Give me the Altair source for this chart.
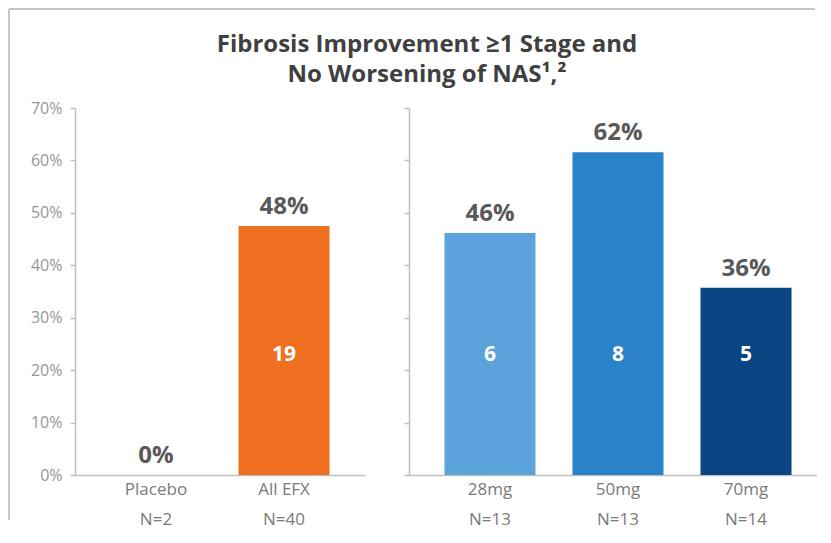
import altair as alt
import pandas as pd

# ---- data ----
left_groups = ["Placebo", "All EFX"]
left_n = ["N=2", "N=40"]
left_rates = [0.0, 0.475]
left_labels = ["0%", "48%"]
left_counts = ["", "19"]
left_colors = ["#ffffff", "#f07022"]

right_groups = ["28mg", "50mg", "70mg"]
right_n = ["N=13", "N=13", "N=14"]
right_rates = [0.4615, 0.6154, 0.3571]
right_labels = ["46%", "62%", "36%"]
right_counts = ["6", "8", "5"]
right_colors = ["#5ba3db", "#2a83c8", "#0b4583"]

y_ticks = [0.0, 0.1, 0.2, 0.3, 0.4, 0.5, 0.6, 0.7]
title_lines = ["Fibrosis Improvement \u22651 Stage and", "No Worsening of NAS\u00b9,\u00b2"]

FRAME = "#c6c6c6"
AXIS = "#bfbfbf"
FONT = "Open Sans"


def make_df(groups, ns, rates, labels, counts, colors):
    return pd.DataFrame({
        "cat": [f"{g}|{n}" for g, n in zip(groups, ns)],
        "rate": rates,
        "label": labels,
        "count": counts,
        "color": colors,
    })


def panel(df, show_labels, pad_outer, align):
    cats = list(df["cat"])
    x = alt.X(
        "cat:N", sort=cats,
        scale=alt.Scale(paddingInner=0.289, paddingOuter=pad_outer, align=align),
        axis=alt.Axis(
            title=None, labelExpr="split(datum.label, '|')", labelAngle=0,
            ticks=False, tickSize=0, labelPadding=6, labelFontSize=17,
            labelColor="#7a7a7a", labelFont=FONT, labelLineHeight=30,
            domainColor=AXIS, domainWidth=1.5,
        ),
    )
    y = alt.Y(
        "rate:Q",
        scale=alt.Scale(domain=[0, 0.7], nice=False),
        axis=alt.Axis(
            title=None, format=".0%", values=y_ticks, labels=show_labels,
            grid=False, tickSize=5, tickColor=AXIS, tickWidth=1.5,
            domainColor=AXIS, domainWidth=1.5, labelFont=FONT,
            labelFontSize=16, labelColor="#969696", labelPadding=8,
        ),
    )
    base = alt.Chart(df)
    bars = base.mark_bar().encode(x=x, y=y, color=alt.Color("color:N", scale=None))
    top = base.mark_text(
        baseline="bottom", dy=-7, fontSize=24, fontWeight="bold",
        color="#595959", font=FONT,
    ).encode(x=x, y=y, text="label:N")
    inside = base.mark_text(
        baseline="middle", fontSize=21, fontWeight="bold", color="white", font=FONT,
    ).encode(x=x, y=alt.value(247), text="count:N")
    return [bars, top, inside]


left_df = make_df(left_groups, left_n, left_rates, left_labels, left_counts, left_colors)
right_df = make_df(right_groups, right_n, right_rates, right_labels, right_counts, right_colors)

one = pd.DataFrame({"k": [0]})
title = alt.Chart(one).mark_text(
    text=title_lines, fontSize=24, fontWeight="bold", color="#404040",
    font=FONT, lineHeight=30, align="center", baseline="middle",
).encode(x=alt.value(352), y=alt.value(-63))

frame_top = alt.Chart(one).mark_rule(color=FRAME, strokeWidth=2).encode(
    x=alt.value(-66), x2=alt.value(740), y=alt.value(-99))
frame_left = alt.Chart(one).mark_rule(color=FRAME, strokeWidth=2).encode(
    x=alt.value(-66), y=alt.value(-99), y2=alt.value(412))

left = alt.layer(*panel(left_df, True, 0.277, 0.5), title, frame_top, frame_left).properties(
    width=290, height=367)
right = alt.layer(*panel(right_df, False, 0.238, 0.582)).properties(width=408, height=367)

chart = alt.hconcat(left, right, spacing=44, bounds="flush",
                    padding={"left": 0, "top": 0, "right": 0, "bottom": 12}).configure_view(stroke=None)

chart.save("out.html", embed_options={"renderer": "svg", "actions": False})
